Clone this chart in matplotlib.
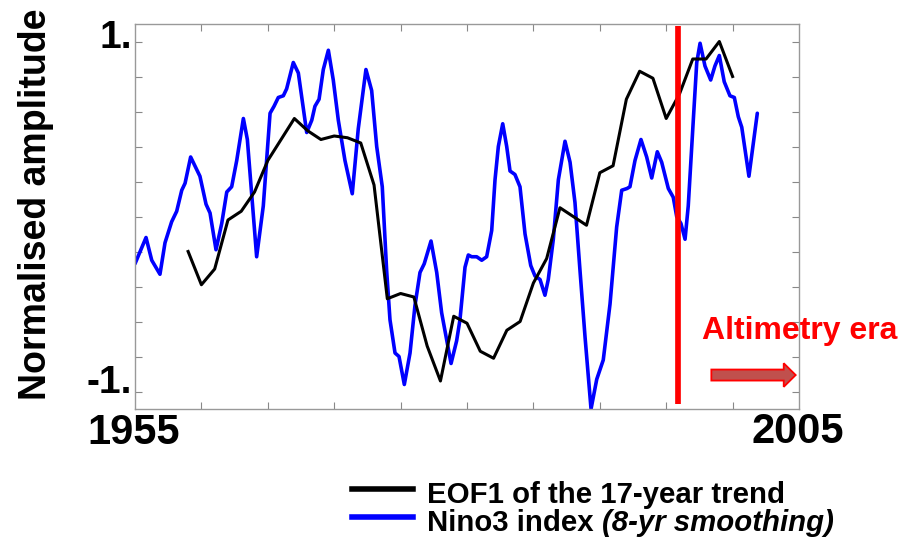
import matplotlib
matplotlib.use("Agg")
import matplotlib.pyplot as plt
from matplotlib.lines import Line2D
from matplotlib.patches import FancyArrow

plt.rcParams["font.family"] = ["Liberation Sans", "DejaVu Sans"]

# ------------- DATA -------------
eof_years = list(range(1959, 2001))
eof_vals = [-0.20, -0.39, -0.30, -0.02, 0.03, 0.14, 0.32, 0.44, 0.56, 0.49,
            0.44, 0.46, 0.45, 0.42, 0.18, -0.47, -0.44, -0.46, -0.74, -0.94,
            -0.57, -0.61, -0.77, -0.81, -0.65, -0.60, -0.38, -0.24, 0.05, 0.00,
            -0.05, 0.25, 0.29, 0.67, 0.83, 0.79, 0.56, 0.70, 0.90, 0.90,
            1.00, 0.80]

nino_years = [1955.00, 1955.83, 1956.26, 1956.88, 1957.26, 1957.76, 1958.14, 1958.52,
              1958.77, 1959.19, 1959.89, 1960.35, 1960.65, 1961.10, 1961.53, 1961.91,
              1962.28, 1962.66, 1963.16, 1963.46, 1964.16, 1964.66, 1965.17, 1965.47,
              1965.79, 1966.17, 1966.42, 1966.92, 1967.30, 1967.93, 1968.31, 1968.55,
              1968.86, 1969.18, 1969.56, 1969.93, 1970.31, 1970.81, 1971.36, 1971.81,
              1972.39, 1972.82, 1973.20, 1973.62, 1973.95, 1974.20, 1974.58, 1974.88,
              1975.28, 1975.71, 1976.08, 1976.46, 1976.78, 1977.29, 1977.72, 1978.09,
              1978.80, 1979.22, 1979.47, 1979.85, 1980.10, 1980.35, 1980.73, 1981.11,
              1981.48, 1981.86, 1982.11, 1982.36, 1982.69, 1982.99, 1983.24, 1983.61,
              1983.99, 1984.37, 1984.80, 1985.12, 1985.50, 1985.87, 1986.12, 1986.50,
              1986.88, 1987.38, 1987.76, 1988.13, 1988.51, 1988.89, 1989.34, 1989.77,
              1990.26, 1990.77, 1991.27, 1991.65, 1992.05, 1992.27, 1992.65, 1993.10,
              1993.53, 1993.91, 1994.33, 1994.66, 1995.16, 1995.53, 1995.79, 1996.11,
              1996.42, 1996.66, 1997.04, 1997.30, 1997.55, 1997.92, 1998.35, 1998.67,
              1999.00, 1999.37, 1999.80, 2000.13, 2000.43, 2000.69, 2001.23, 2001.86]
nino_vals = [-0.27, -0.12, -0.25, -0.33, -0.15, -0.03, 0.03, 0.15,
             0.19, 0.34, 0.23, 0.07, 0.02, -0.19, -0.04, 0.14,
             0.17, 0.32, 0.56, 0.44, -0.23, 0.06, 0.59, 0.63,
             0.68, 0.69, 0.73, 0.88, 0.82, 0.48, 0.55, 0.63,
             0.67, 0.84, 0.95, 0.78, 0.55, 0.32, 0.13, 0.50,
             0.84, 0.72, 0.40, 0.17, -0.31, -0.59, -0.78, -0.80,
             -0.96, -0.78, -0.51, -0.32, -0.27, -0.14, -0.32, -0.55,
             -0.84, -0.71, -0.59, -0.29, -0.22, -0.23, -0.23, -0.25,
             -0.23, -0.08, 0.21, 0.40, 0.53, 0.40, 0.26, 0.24,
             0.17, -0.10, -0.28, -0.34, -0.36, -0.45, -0.36, -0.13,
             0.21, 0.43, 0.31, 0.08, -0.31, -0.69, -1.10, -0.93,
             -0.82, -0.50, -0.06, 0.15, 0.16, 0.17, 0.32, 0.44,
             0.34, 0.22, 0.37, 0.31, 0.16, 0.11, 0.00, -0.04,
             -0.13, 0.06, 0.55, 0.88, 0.99, 0.86, 0.78, 0.86,
             0.92, 0.77, 0.69, 0.68, 0.57, 0.51, 0.23, 0.59]

altimetry_start = 1995.9
x_ticks = [1960, 1965, 1970, 1975, 1980, 1985, 1990, 1995, 2000]
y_ticks = [-1.0, -0.8, -0.6, -0.4, -0.2, 0.0, 0.2, 0.4, 0.6, 0.8, 1.0]
# -------------------------------------------------------

fig = plt.figure(figsize=(9.15, 5.4), dpi=100)
ax = fig.add_axes([135 / 915, 1 - 409 / 540, 664 / 915, 385 / 540])

ax.plot(nino_years, nino_vals, color="#0000ff", lw=2.6,
        solid_joinstyle="round", solid_capstyle="round")
ax.plot(eof_years, eof_vals, color="black", lw=2.2)

ax.vlines(altimetry_start, -1.07, 1.09, color="#ff0000", lw=4.1, zorder=5)
ax.add_patch(FancyArrow(1998.4, -0.906, 5.45, 0, width=0.063, head_width=0.135,
                        head_length=0.9, length_includes_head=False,
                        facecolor="#c0504d", edgecolor="#ff0000", lw=1.3,
                        clip_on=False, zorder=6))
ax.text(1997.7, -0.701, "Altimetry era", color="#ff0000", fontsize=23,
        fontweight="bold", va="baseline", ha="left", clip_on=False, zorder=7)

ax.set_xlim(1955, 2005)
ax.set_ylim(-1.1, 1.1)
ax.set_xticks(x_ticks)
ax.set_yticks(y_ticks)
ax.tick_params(direction="in", length=5, width=0.8, color="#888888",
               top=True, right=True, labelbottom=False, labelleft=False)
for s in ax.spines.values():
    s.set_color("#999999")
    s.set_linewidth(1.0)

# axis texts
fig.text(132 / 915, 1 - 38 / 540, "1.", fontsize=28, fontweight="bold", ha="right", va="center")
fig.text(132 / 915, 1 - 383 / 540, "-1.", fontsize=28, fontweight="bold", ha="right", va="center")
fig.text(134 / 915, 1 - 433 / 540, "1955", fontsize=30, fontweight="bold", ha="center", va="center")
fig.text(798 / 915, 1 - 432 / 540, "2005", fontsize=30, fontweight="bold", ha="center", va="center")
fig.text(36 / 915, 1 - 204 / 540, "Normalised amplitude", fontsize=27, fontweight="bold",
         rotation=90, ha="center", va="center")

# legend drawn by hand
fig.add_artist(Line2D([352 / 915, 413 / 915], [1 - 489 / 540, 1 - 489 / 540],
                      color="black", lw=4, transform=fig.transFigure))
fig.add_artist(Line2D([352 / 915, 413 / 915], [1 - 516.5 / 540, 1 - 516.5 / 540],
                      color="#0000ff", lw=4, transform=fig.transFigure))
fig.text(427 / 915, 1 - 503 / 540, "EOF1 of the 17-year trend", fontsize=21.2,
         fontweight="bold", va="baseline")
t2 = fig.text(427 / 915, 1 - 531 / 540, "Nino3 index ", fontsize=21.2,
              fontweight="bold", va="baseline")
r = fig.canvas.get_renderer()
bb = t2.get_window_extent(renderer=r)
fig.text(bb.x1 / 915, 1 - 531 / 540, "(8-yr smoothing)", fontsize=21.2,
         fontweight="bold", style="italic", va="baseline")

fig.savefig("out.png", dpi=100)
